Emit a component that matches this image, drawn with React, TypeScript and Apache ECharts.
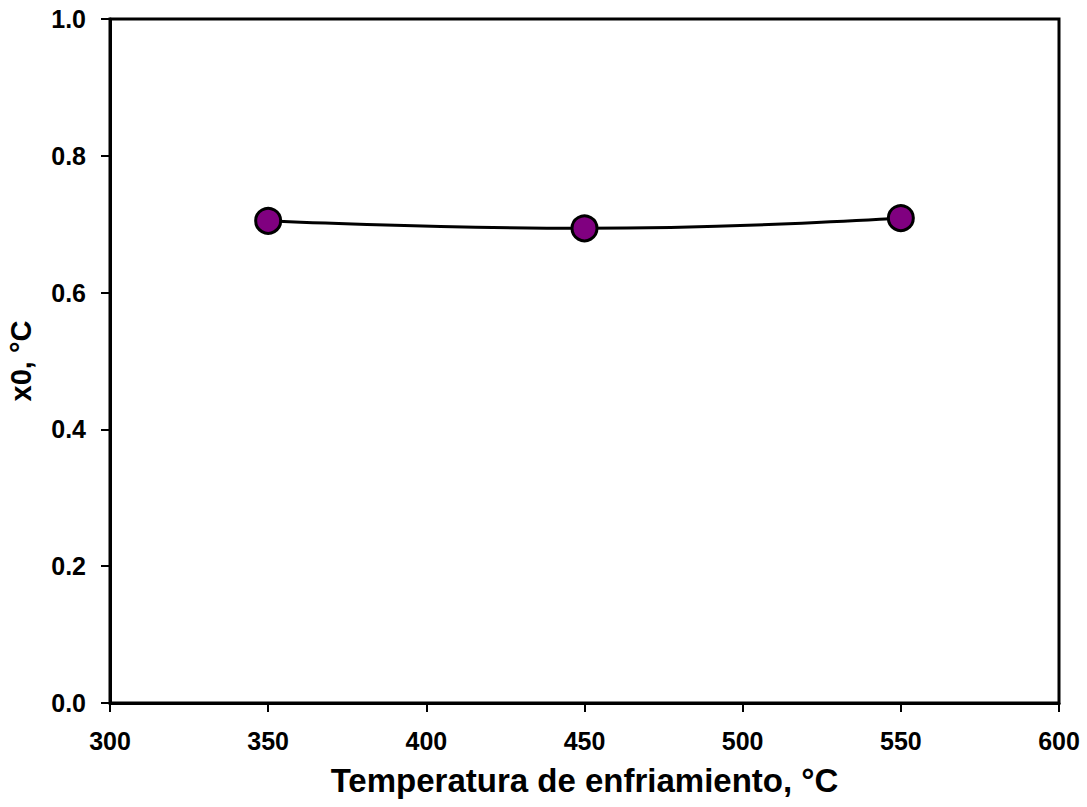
import React, { useEffect, useRef } from "react";
import * as echarts from "echarts";

const temperatures = [350, 450, 550];
const x0Values = [0.705, 0.694, 0.709];
const xTicks = { min: 300, max: 600, interval: 50 };
const yTicks = { min: 0, max: 1, interval: 0.2 };
const xTitle = "Temperatura de enfriamiento, °C";
const yTitle = "x0, °C";

const FONT = "'Liberation Sans', Arial, Helvetica, sans-serif";

export default function App() {
  const ref = useRef<HTMLDivElement>(null);
  useEffect(() => {
    if (!ref.current) return;
    const chart = echarts.init(ref.current, undefined, { renderer: "svg" });
    chart.setOption({
      animation: false,
      backgroundColor: "#ffffff",
      grid: {
        left: 110,
        top: 19,
        right: 28,
        bottom: 104,
        containLabel: false,
        outerBoundsMode: "none",
        show: true,
        borderColor: "#000",
        borderWidth: 3,
        backgroundColor: "transparent",
      },
      xAxis: {
        type: "value",
        min: xTicks.min,
        max: xTicks.max,
        interval: xTicks.interval,
        name: xTitle,
        nameLocation: "middle",
        nameGap: 61,
        nameTextStyle: { fontFamily: FONT, fontWeight: "bold", fontSize: 33, color: "#000" },
        axisLine: { show: true, onZero: false, lineStyle: { color: "#000", width: 3 } },
        axisTick: { show: true, inside: false, length: 9, lineStyle: { color: "#000", width: 2 } },
        axisLabel: { margin: 25, fontFamily: FONT, fontWeight: "bold", fontSize: 25, color: "#000" },
        splitLine: { show: false },
      },
      yAxis: {
        type: "value",
        min: yTicks.min,
        max: yTicks.max,
        interval: yTicks.interval,
        name: yTitle,
        nameLocation: "middle",
        nameGap: 75,
        nameTextStyle: { fontFamily: FONT, fontWeight: "bold", fontSize: 29, color: "#000" },
        axisLine: { show: true, onZero: false, lineStyle: { color: "#000", width: 3 } },
        axisTick: { show: true, inside: false, length: 9, lineStyle: { color: "#000", width: 2 } },
        axisLabel: {
          margin: 24,
          fontFamily: FONT,
          fontWeight: "bold",
          fontSize: 25,
          color: "#000",
          formatter: (v: number) => v.toFixed(1),
        },
        splitLine: { show: false },
      },
      series: [
        {
          type: "line",
          data: temperatures.map((t, i) => [t, x0Values[i]]),
          smooth: true,
          lineStyle: { color: "#000", width: 3 },
          symbol: "circle",
          symbolSize: 25,
          itemStyle: { color: "#800080", borderColor: "#000", borderWidth: 3 },
          z: 3,
        },
      ],
    });
    return () => chart.dispose();
  }, []);
  return (
    <div
      ref={ref}
      style={{ position: "fixed", left: 0, top: 0, width: 1087, height: 807, background: "#fff" }}
    />
  );
}
